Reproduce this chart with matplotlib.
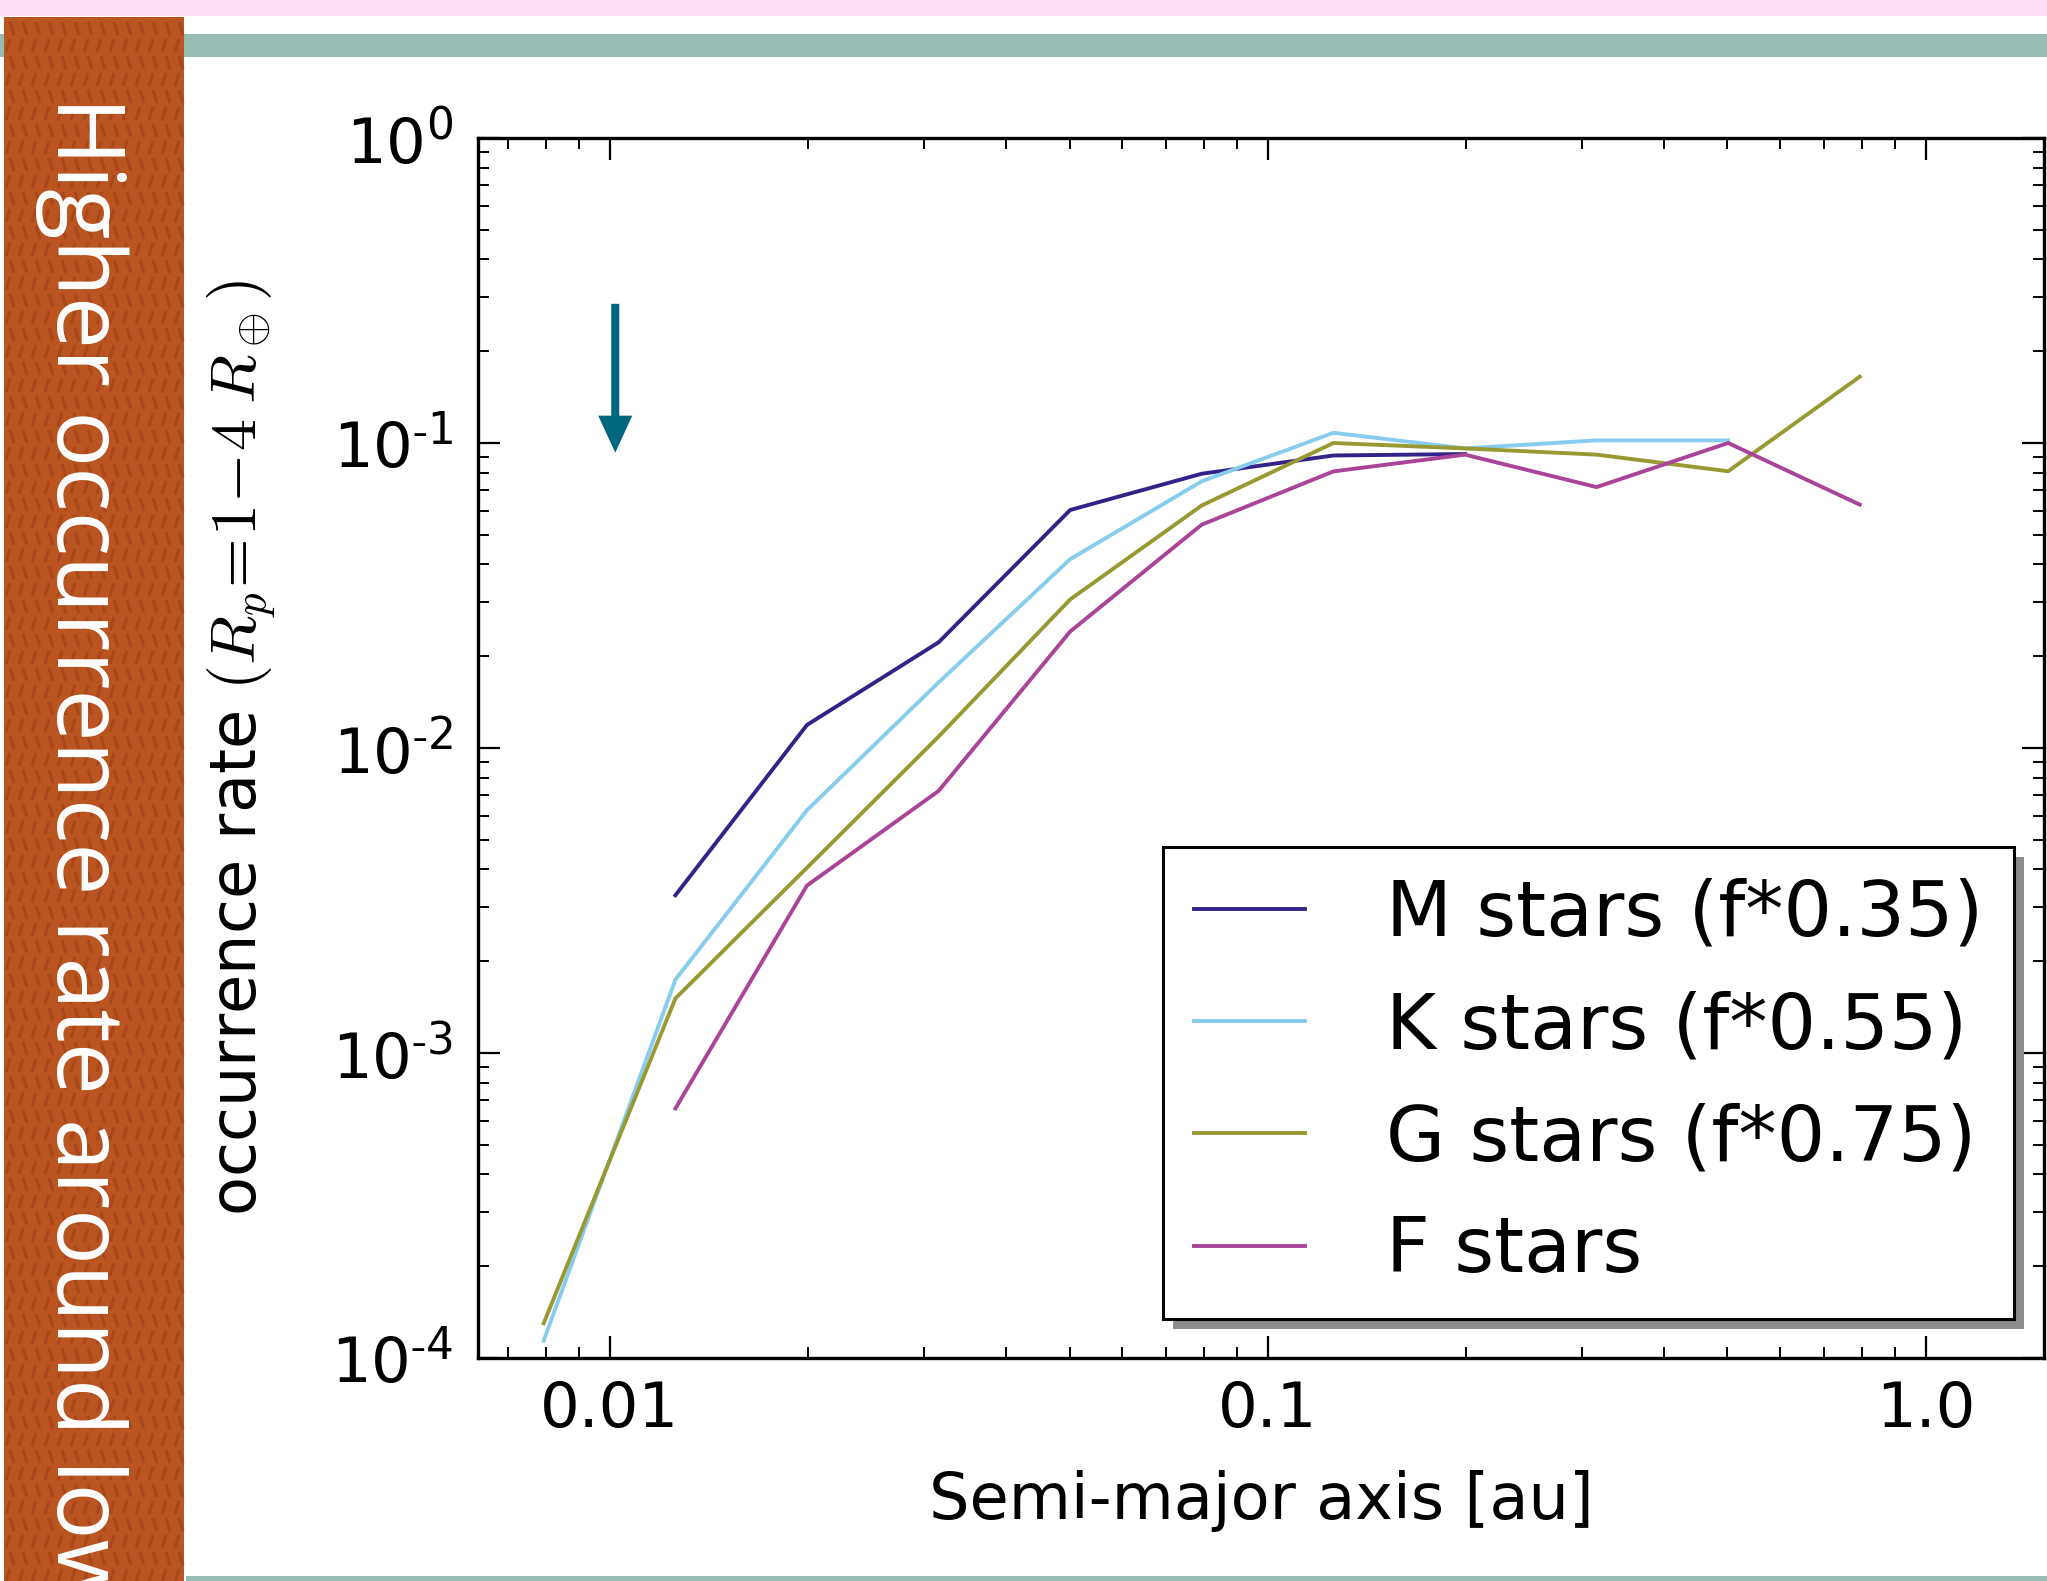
import numpy as np
import matplotlib
matplotlib.use("Agg")
import matplotlib.pyplot as plt
from matplotlib.patches import Rectangle
from matplotlib.collections import LineCollection
from matplotlib.transforms import IdentityTransform
import matplotlib.ticker as mticker

# ---------------- data ----------------
semi_major_axis = [0.00794, 0.01259, 0.01995, 0.03162, 0.05012, 0.07943,
                   0.1259, 0.1995, 0.3162, 0.5012, 0.7943]
nan = np.nan
m_stars = [nan, 0.00329, 0.0119, 0.0222, 0.0603, 0.0793, 0.091, 0.092, nan, nan, nan]
k_stars = [1.14e-4, 0.00174, 0.00625, 0.0164, 0.0416, 0.0749, 0.108, 0.096, 0.102, 0.102, nan]
g_stars = [1.30e-4, 0.00151, 0.00405, 0.0109, 0.0307, 0.0624, 0.100, 0.096, 0.0916, 0.0808, 0.165]
f_stars = [nan, 0.000658, 0.00354, 0.00723, 0.0241, 0.0540, 0.0807, 0.0916, 0.0717, 0.100, 0.0628]

series_values = [m_stars, k_stars, g_stars, f_stars]
series_labels = ["M stars (f*0.35)", "K stars (f*0.55)", "G stars (f*0.75)", "F stars"]
series_colors = ["#332288", "#88CCEE", "#999933", "#AA4499"]

x_tick_values = [0.01, 0.1, 1.0]
x_tick_labels = ["0.01", "0.1", "1.0"]
x_label = "Semi-major axis [au]"
y_label = r"occurrence rate $(R_p\!=\!1\!-\!4\;R_\oplus)$"
banner_text = "Higher occurrence rate around low"

# arrow annotation (data coordinates)
arrow_x = 0.0102
arrow_tail_y = 0.286
arrow_tip_y = 0.093

# ---------------- figure ----------------
W, H = 2047, 1581
plt.rcParams["font.family"] = ["DejaVu Sans"]
plt.rcParams["mathtext.fontset"] = "cm"
plt.rcParams["axes.unicode_minus"] = False

fig = plt.figure(figsize=(W / 100, H / 100), dpi=100)
fig.patch.set_facecolor("white")


def px_rect(x0, y0, x1, y1, **kw):
    r = Rectangle((x0 / W, 1 - y1 / H), (x1 - x0) / W, (y1 - y0) / H,
                  transform=fig.transFigure, **kw)
    fig.add_artist(r)
    return r


# slide decorations
px_rect(0, 0, W, 16, fc="#FEDDF6", ec="none", zorder=1)
px_rect(0, 34, W, 57, fc="#97BCB3", ec="none", zorder=1)
px_rect(186, 1576, W, H, fc="#97BCB3", ec="none", zorder=1)
banner = px_rect(4, 17, 184, H, fc="#BA5522", ec="none", zorder=2)

# banner texture: rows of short slanted strokes
segs = []
row = 0
for yy in range(22, H, 17):
    d = 1 if row % 2 == 0 else -1
    for xx in range(10, 182, 13):
        y_disp = H - yy
        segs.append([(xx, y_disp), (xx + 4 * d, y_disp - 13)])
    row += 1
lc = LineCollection(segs, colors="#A4441A", linewidths=2.2, alpha=0.8,
                    transform=IdentityTransform(), zorder=3)
fig.add_artist(lc)

bt = fig.text(57 / W, 1 - 96 / H, banner_text, rotation=-90, rotation_mode="anchor",
              ha="left", va="baseline", color="white", fontsize=67,
              family=["Open Sans", "DejaVu Sans"], zorder=4)
bt.set_clip_path(banner)

# ---------------- axes ----------------
ax = fig.add_axes([478 / W, 1 - 1358 / H, (2044 - 478) / W, (1358 - 138) / H])
for vals, lab, col in zip(series_values, series_labels, series_colors):
    ax.plot(semi_major_axis, vals, color=col, lw=2.8, label=lab)

ax.set_xscale("log")
ax.set_yscale("log")
ax.set_xlim(10 ** -2.2, 10 ** 0.18)
ax.set_ylim(1e-4, 1.0)

ax.xaxis.set_major_locator(mticker.FixedLocator(x_tick_values))
ax.xaxis.set_major_formatter(mticker.FixedFormatter(x_tick_labels))
ax.xaxis.set_minor_locator(mticker.LogLocator(base=10, subs=np.arange(2, 10)))
ax.xaxis.set_minor_formatter(mticker.NullFormatter())
ax.yaxis.set_major_locator(mticker.LogLocator(base=10, numticks=10))
ax.yaxis.set_minor_locator(mticker.LogLocator(base=10, subs=np.arange(2, 10), numticks=20))
ax.yaxis.set_minor_formatter(mticker.NullFormatter())


def pow_fmt(v, pos):
    e = int(round(np.log10(v)))
    if e < 0:
        return r"$\mathdefault{10^{\text{-}%d}}$" % (-e)
    return r"$\mathdefault{10^{%d}}$" % e


ax.yaxis.set_major_formatter(mticker.FuncFormatter(pow_fmt))

ax.tick_params(which="both", direction="in", top=True, right=True, labelsize=45)
ax.tick_params(which="major", length=16, width=1.6)
ax.tick_params(which="minor", length=8, width=1.4)
ax.tick_params(axis="x", which="major", pad=16)
ax.tick_params(axis="y", which="major", pad=18)
for sp in ax.spines.values():
    sp.set_linewidth(2.4)

ax.set_xlabel(x_label, fontsize=46)
ax.xaxis.set_label_coords(0.5, -0.092)
ax.set_ylabel(y_label, fontsize=46)
ax.yaxis.set_label_coords(-0.127, 0.5)

leg = ax.legend(loc="lower right", bbox_to_anchor=(0.981, 0.032), borderaxespad=0,
                fontsize=55, frameon=True, fancybox=False, handlelength=1.45,
                handletextpad=1.07, borderpad=0.4, labelspacing=0.5)
leg.get_frame().set_edgecolor("black")
leg.get_frame().set_linewidth(2.2)
leg.get_frame().set_alpha(1)

# arrow
ax.annotate("", xy=(arrow_x, arrow_tip_y), xytext=(arrow_x, arrow_tail_y),
            arrowprops=dict(arrowstyle="simple,head_length=26.6,head_width=24.5,tail_width=5.8",
                            fc="#00677F", ec="none", lw=0, shrinkA=0, shrinkB=0,
                            mutation_scale=1))

# legend shadow
fig.canvas.draw()
bb = leg.get_window_extent()
shadow = Rectangle((bb.x0 + 10, bb.y0 - 10), bb.width, bb.height, transform=IdentityTransform(),
                   fc="0.55", ec="none", zorder=4.5, clip_on=False)
ax.add_artist(shadow)

fig.savefig("out.png", dpi=100)
